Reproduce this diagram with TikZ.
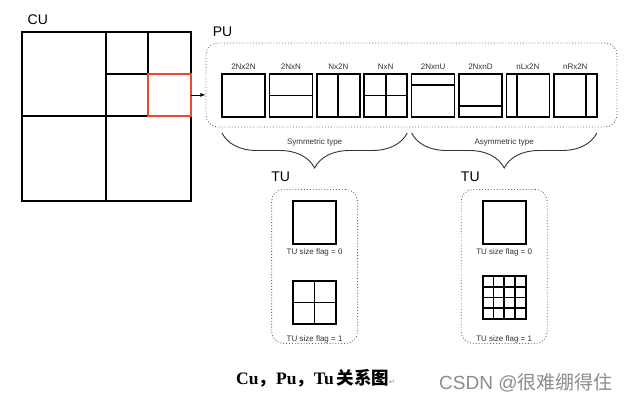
\documentclass[tikz,border=0pt]{standalone}
\usepackage{fontspec}
\setmainfont{Liberation Sans}
\newfontfamily\capserif{Liberation Serif}
\newfontfamily\cjk{Noto Sans CJK SC}
\newfontfamily\symfont{DejaVu Sans}
\usetikzlibrary{positioning}
\usetikzlibrary{calc}
\usetikzlibrary{decorations.pathreplacing}
\definecolor{cured}{RGB}{232,74,46}
\definecolor{dotgray}{RGB}{105,105,105}

\begin{document}
\begin{tikzpicture}[x=1pt,y=-1pt,
        dblline/.style={draw, line width=1.7pt, line cap=rect},
        cell/.style={minimum size=43pt, inner sep=0pt, outer sep=0pt},
        dotframe/.style={draw=dotgray, dotted, line width=0.9pt, rounded corners=12pt, inner sep=0pt},
        unitlbl/.style={font=\fontsize{14}{16}\selectfont, inner sep=0pt},
        typelbl/.style={font=\fontsize{8}{9}\selectfont, inner sep=0pt, text=black!80},
        brc/.style={decorate, decoration={brace, mirror, amplitude=35pt}, line width=0.9pt, draw=black!80}]
    \fill[white] (0,0) rectangle (625,402);
    \useasboundingbox (0,0) rectangle (625,402);

    % coding unit split by the quadtree
    \node[draw, line width=2pt, minimum size=169pt, inner sep=0pt, outer sep=0pt] (cu) at (106,116) {};
    \node[unitlbl, above right=7pt and 6pt of cu.north west] (culbl) {CU};
    \draw[line width=2pt] (cu.north) -- (cu.south) (cu.west) -- (cu.east)
        ($(cu.north)!0.5!(cu.north east)$) -- ($(cu.center)!0.5!(cu.east)$)
        ($(cu.center)!0.5!(cu.north)$) -- ($(cu.east)!0.5!(cu.north east)$);
    \node[draw=cured, line width=2pt, minimum size=42.25pt, inner sep=0pt, outer sep=0pt] (sel) at (169.4,94.9) {};

    % prediction units
    \node[dotframe, minimum width=411pt, minimum height=84pt] (pu) at (411.5,85) {};
    \node[unitlbl, above right=6pt and 7pt of pu.north west] (pulbl) {PU};
    \draw[-latex, line width=0.8pt] (sel.east) -- (sel.east -| pu.west);
    \foreach \tname/\hf/\vf [count=\i] in {2Nx2N/0/0, 2NxN/0.5/0, Nx2N/0/0.5, NxN/0.5/0.5,
            2NxnU/0.25/0, 2NxnD/0.75/0, nLx2N/0/0.25, nRx2N/0/0.75}{
        \node[cell] (u\i) at ({243.5+47.4*(\i-1)},95.5) {};
        \node[typelbl, above=4pt of u\i] (l\i) {\tname};
        \draw[dblline] ($(u\i.north west)!\hf!(u\i.south west)$) -- ($(u\i.north east)!\hf!(u\i.south east)$);
        \draw[dblline] ($(u\i.north west)!\vf!(u\i.north east)$) -- ($(u\i.south west)!\vf!(u\i.south east)$);
        \draw[dblline] (u\i.north west) rectangle (u\i.south east);
    }

    % braces
    \draw[brc] ($(u1.south west)+(0,16)$) -- node[typelbl, below=5pt] (symlbl) {Symmetric type} ($(u4.south east)+(0,16)$);
    \draw[brc] ($(u5.south west)+(0,16)$) -- node[typelbl, below=5pt] (asymlbl) {Asymmetric type} ($(u8.south east)+(0,16)$);
    \coordinate (symtip) at ($(u1.south west)!0.5!(u4.south east)+(0,51)$);
    \coordinate (asymtip) at ($(u5.south west)!0.5!(u8.south east)+(0,51)$);

    % transform units
    \foreach \tip/\gap/\n [count=\k] in {symtip/11/2, asymtip/16/4}{
        \node[dotframe, minimum width=86pt, minimum height=154pt, below=21pt of \tip] (tu\k) {};
        \node[unitlbl, above right=7pt and 0pt of tu\k.north west] (tulbl\k) {TU};
        \node[cell, below=12pt of tu\k.north] (ta\k) {};
        \draw[dblline] (ta\k.north west) rectangle (ta\k.south east);
        \node[typelbl, below=5pt of ta\k] (tla\k) {TU size flag = 0};
        \node[typelbl, above=1pt of tu\k.south] (tlb\k) {TU size flag = 1};
        \node[cell, above=\gap pt of tlb\k] (tb\k) {};
        \pgfmathtruncatemacro\m{\n-1}
        \foreach \j in {1,...,\m}{
            \draw[dblline] ($(tb\k.north west)!\j/\n!(tb\k.south west)$) -- ($(tb\k.north east)!\j/\n!(tb\k.south east)$);
            \draw[dblline] ($(tb\k.north west)!\j/\n!(tb\k.north east)$) -- ($(tb\k.south west)!\j/\n!(tb\k.south east)$);
        }
        \draw[dblline] (tb\k.north west) rectangle (tb\k.south east);
    }

    % caption and watermark
    \node[anchor=base west, inner sep=0pt, font=\fontsize{17.5}{20}\selectfont\bfseries] (cap) at (236,384)
        {{\capserif Cu}{\cjk ，}{\capserif Pu}{\cjk ，}{\capserif Tu}\,{\cjk 关系图}{\symfont\fontsize{7}{8}\selectfont\mdseries\textcolor{gray}{↵}}};
    \node[anchor=base west, inner sep=0pt, text=black!45, font=\fontsize{19}{21}\selectfont] (mark) at (439,389)
        {CSDN @{\cjk 很难绷得住}};
\end{tikzpicture}
\end{document}
